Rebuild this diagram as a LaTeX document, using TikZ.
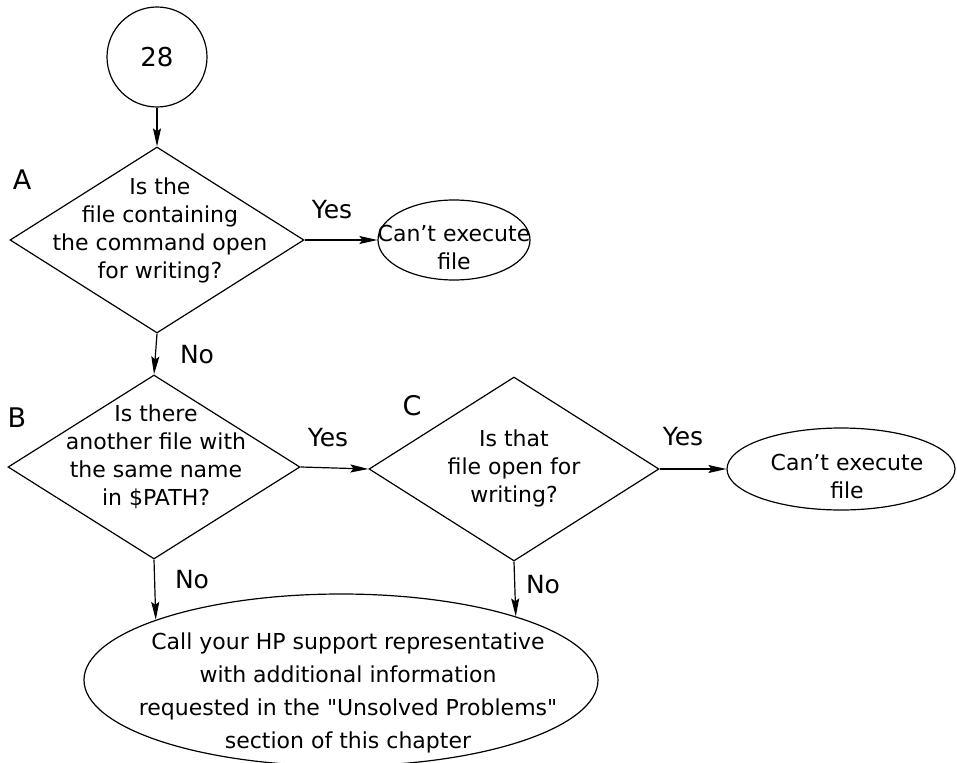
\documentclass[tikz,border=0pt]{standalone}
\usepackage{fontspec}
\setmainfont{DejaVu Sans}
\usetikzlibrary{shapes.geometric}
\usetikzlibrary{arrows.meta}

\tikzset{
  decision/.style={draw,diamond,inner sep=0pt,line width=1.2pt},
  stopbox/.style={draw,ellipse,inner sep=0pt,line width=1.2pt},
  txt/.style={align=center,font=\fontsize{22}{28}\selectfont},
  lbl/.style={font=\fontsize{25}{30}\selectfont},
  flow/.style={-{Stealth[length=18pt,width=8pt,inset=3pt]},line width=1.2pt}
}

\begin{document}
\begin{tikzpicture}[x=1pt,y=-1pt]

  \useasboundingbox (0,0) rectangle (957,762);

  % entry point
  \node[draw,circle,minimum size=100pt,line width=1.2pt] (c28) at (157,57) {};
  \node[lbl,font=\fontsize{26}{30}\selectfont] at (c28) {28};

  % the three questions
  \node[decision,minimum width=294pt,minimum height=186pt] (qa) at (157,240) {};
  \node[decision,minimum width=292pt,minimum height=184pt] (qb) at (154,467) {};
  \node[decision,minimum width=290pt,minimum height=184pt] (qc) at (514,469) {};

  \node[txt] at (160,230) {Is the\\file containing\\the command open\\for writing?};
  \node[txt] at (156,457) {Is there\\another file with\\the same name\\in \$PATH?};
  \node[txt] at (514,468) {Is that\\file open for\\writing?};

  \node[lbl,font=\fontsize{27}{30}\selectfont] at (22,180) {A};
  \node[lbl,font=\fontsize{27}{30}\selectfont] at (17,418) {B};
  \node[lbl,font=\fontsize{27}{30}\selectfont] at (412,406) {C};

  % outcomes
  \node[stopbox,minimum width=152pt,minimum height=80pt] (sa) at (454,240) {};
  \node[txt] at (454,247) {Can't execute\\file};
  \node[stopbox,minimum width=228pt,minimum height=82pt] (sc) at (841,469) {};
  \node[txt] at (847,476) {Can't execute\\file};

  \node[stopbox,minimum width=514pt,minimum height=172pt] (call) at (341,680) {};
  \node[txt,font=\fontsize{22}{33}\selectfont] at (348,693)
    {Call your HP support representative\\with additional information\\
     requested in the \textquotedbl Unsolved Problems\textquotedbl\\section of this chapter};

  % connectors
  \draw[flow] (c28.south) -- (qa.north);
  \draw[flow] (qa.east) -- (sa.west);
  \draw[flow] (qa.south) -- (qb.north);
  \draw[flow] (qb.east) -- (qc.west);
  \draw[flow] (qc.east) -- (sc.west);
  \draw[flow] (qb.south) -- (call.162.5);
  \draw[flow] (qc.south) -- (call.20.2);

  \node[lbl] at (332,210) {Yes};
  \node[lbl] at (328,438) {Yes};
  \node[lbl] at (683,437) {Yes};
  \node[lbl] at (197,355) {No};
  \node[lbl] at (192,580) {No};
  \node[lbl] at (543,585) {No};

\end{tikzpicture}
\end{document}
